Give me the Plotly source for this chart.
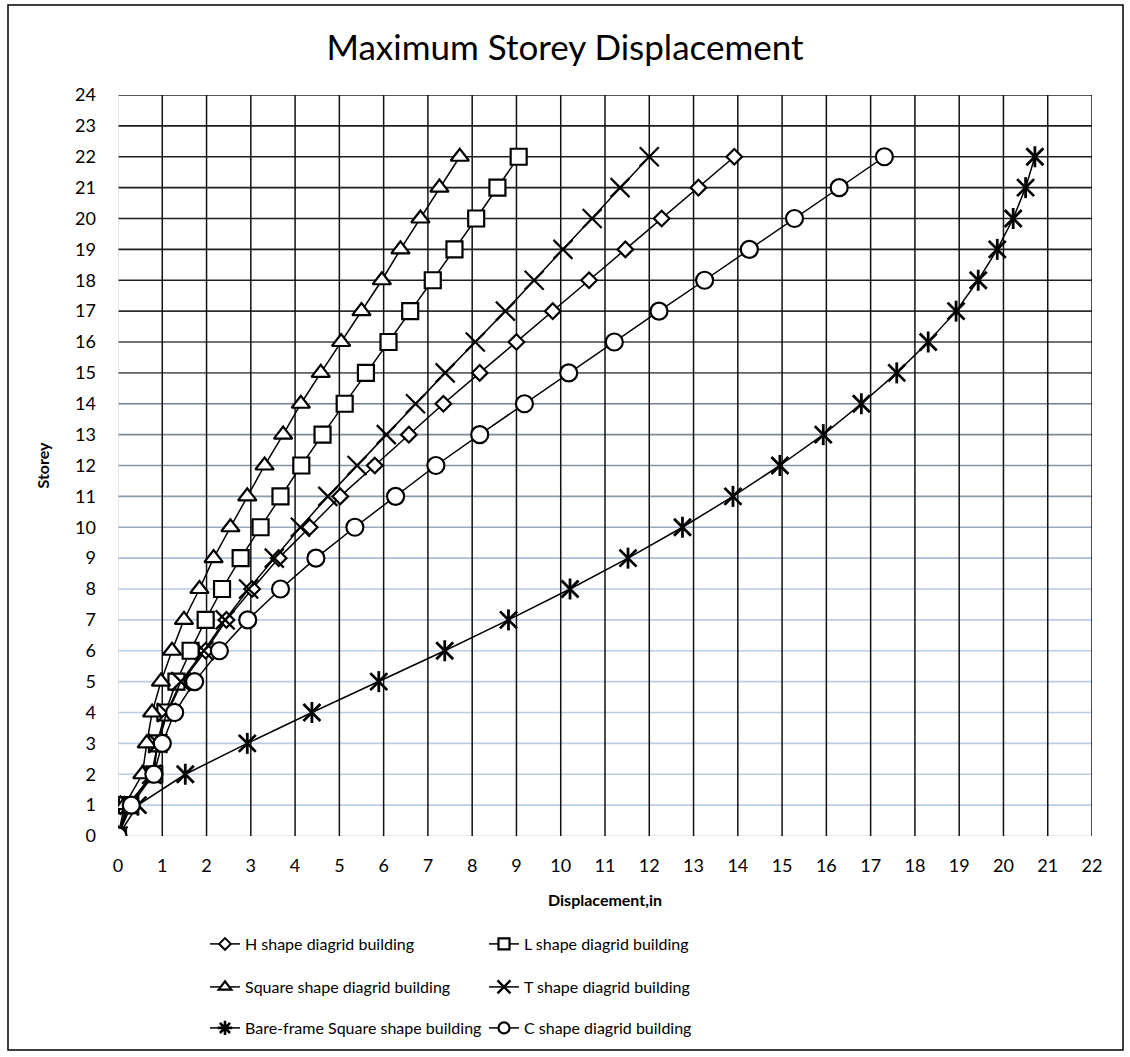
import plotly.graph_objects as go

# ---------------- data ----------------
storeys = list(range(23))
h_shape = [0, 0.25, 0.78, 0.90, 1.12, 1.45, 1.98, 2.45, 3.03, 3.63, 4.33, 5.02, 5.80, 6.57,
           7.35, 8.17, 9.00, 9.82, 10.64, 11.46, 12.28, 13.11, 13.92]
l_shape = [0, 0.20, 0.82, 0.88, 1.07, 1.32, 1.64, 1.98, 2.35, 2.77, 3.22, 3.67, 4.14, 4.62,
           5.12, 5.60, 6.11, 6.60, 7.11, 7.60, 8.09, 8.57, 9.05]
sq_shape = [0, 0.15, 0.55, 0.65, 0.77, 0.97, 1.22, 1.49, 1.84, 2.16, 2.54, 2.92, 3.31, 3.73,
            4.13, 4.58, 5.04, 5.50, 5.96, 6.38, 6.83, 7.26, 7.72]
t_shape = [0, 0.25, 0.76, 0.90, 1.10, 1.42, 1.94, 2.42, 2.95, 3.53, 4.12, 4.74, 5.40, 6.06,
           6.72, 7.39, 8.07, 8.75, 9.40, 10.05, 10.71, 11.34, 12.00]
bare_sq = [0, 0.45, 1.52, 2.92, 4.38, 5.89, 7.38, 8.82, 10.21, 11.52, 12.75, 13.89, 14.95, 15.93,
           16.79, 17.59, 18.30, 18.93, 19.43, 19.86, 20.22, 20.50, 20.71]
c_shape = [0, 0.30, 0.81, 1.00, 1.28, 1.73, 2.29, 2.93, 3.67, 4.47, 5.35, 6.27, 7.18, 8.17,
           9.18, 10.18, 11.21, 12.22, 13.25, 14.26, 15.28, 16.29, 17.31]

names = ["H shape diagrid building", "L shape diagrid building",
         "Square shape diagrid building", "T shape diagrid building",
         "Bare-frame Square shape building", "C shape diagrid building"]

x_ticks = list(range(0, 23))
y_ticks = list(range(0, 25))

# colours of the horizontal grid lines (storey 0 .. 24), as seen in the picture
hgrid_colors = ["#d9d9d9", "#b9cde5", "#b9cde5", "#b9cde5", "#b9cde5", "#b9cde5", "#b9cde5",
                "#b9cde5", "#b6cae2", "#a9bed7", "#99abc1", "#8b9aae", "#8593a5", "#7d8a9a",
                "#737e8a", "#5a6167", "#404448", "#2e2e2e", "#1e1e1e", "#1e1e1e", "#1e1e1e",
                "#1e1e1e", "#1e1e1e", "#1e1e1e", "#1e1e1e"]

# ---------------- geometry ----------------
W, H = 1130, 1057
ML, MR, MT, MB = 118, 38, 95, 221
PW, PH = W - ML - MR, H - MT - MB


def px_x(px):
    return (px - ML) / PW


def px_y(py):
    return (H - MB - py) / PH


FONT = "Lato"
fig = go.Figure()

# horizontal grid lines
for yv, col in zip(y_ticks, hgrid_colors):
    fig.add_shape(type="line", xref="paper", yref="y", x0=0, x1=1, y0=yv, y1=yv,
                  line=dict(color=col, width=1.6 if yv > 0 else 1.2), layer="below")
# vertical grid lines (x = 0 is the light axis line)
for xv in x_ticks:
    fig.add_shape(type="line", xref="x", yref="paper", x0=xv, x1=xv, y0=0, y1=1,
                  line=dict(color="#111111" if xv > 0 else "#d9d9d9",
                            width=1.5 if xv > 0 else 1.2), layer="below")

marker_line = dict(color="black", width=2.2)
line_style = dict(color="black", width=1.5)

# (values, plot marker, legend marker, legend id)
specs = [
    (h_shape, dict(symbol="diamond", size=12, color="white", line=marker_line),
     dict(symbol="diamond", size=9, color="white", line=dict(color="black", width=2)), "legend"),
    (l_shape, dict(symbol="square", size=16, color="white", line=marker_line),
     dict(symbol="square", size=11, color="white", line=dict(color="black", width=2.2)), "legend2"),
    (sq_shape, dict(symbol="triangle-up", size=16, color="white", line=marker_line),
     dict(symbol="triangle-up", size=11, color="white", line=dict(color="black", width=2.2)), "legend3"),
    (t_shape, dict(symbol="x-thin", size=19, color="black", line=dict(color="black", width=2.2)),
     dict(symbol="x-thin", size=13, color="black", line=dict(color="black", width=2.4)), "legend4"),
]

for i, (vals, mk, lmk, lg) in enumerate(specs):
    fig.add_trace(go.Scatter(x=vals, y=storeys, mode="lines+markers", name=names[i],
                             line=line_style, marker=mk, showlegend=False))
    fig.add_trace(go.Scatter(x=[None], y=[None], mode="lines+markers", name=names[i],
                             line=line_style, marker=lmk, legend=lg))

# bare frame: X marker plus a vertical bar -> six-armed star
fig.add_trace(go.Scatter(x=bare_sq, y=storeys, mode="lines+markers", name=names[4],
                         line=line_style, showlegend=False,
                         marker=dict(symbol="x-thin", size=17, color="black",
                                     line=dict(color="black", width=2.8))))
fig.add_trace(go.Scatter(x=bare_sq, y=storeys, mode="markers", showlegend=False,
                         marker=dict(symbol="line-ns", size=15, color="black",
                                     line=dict(color="black", width=2.8)),
                         hoverinfo="skip"))
fig.add_trace(go.Scatter(x=[None], y=[None], mode="lines+markers", name=names[4],
                         line=line_style, legend="legend5",
                         marker=dict(symbol="asterisk", size=12, color="black",
                                     line=dict(color="black", width=2.6))))

fig.add_trace(go.Scatter(x=c_shape, y=storeys, mode="lines+markers", name=names[5],
                         line=line_style, showlegend=False,
                         marker=dict(symbol="circle", size=17, color="white", line=marker_line)))
fig.add_trace(go.Scatter(x=[None], y=[None], mode="lines+markers", name=names[5],
                         line=line_style, legend="legend6",
                         marker=dict(symbol="circle", size=11, color="white",
                                     line=dict(color="black", width=2.2))))

# outer chart border
fig.add_shape(type="rect", xref="paper", yref="paper",
              x0=px_x(8), x1=px_x(1123), y0=px_y(1050), y1=px_y(5),
              line=dict(color="black", width=1.5), fillcolor="rgba(0,0,0,0)")

leg_font = dict(family=FONT, size=16, color="black")
col_x = [px_x(205), px_x(484)]
row_y = [px_y(944), px_y(987), px_y(1028)]
leg_pos = [(0, 0), (1, 0), (0, 1), (1, 1), (0, 2), (1, 2)]
leg_keys = ["legend", "legend2", "legend3", "legend4", "legend5", "legend6"]
legends = {}
for k, (c, r) in zip(leg_keys, leg_pos):
    legends[k] = dict(x=col_x[c], y=row_y[r], xanchor="left", yanchor="middle",
                      font=leg_font, bgcolor="rgba(0,0,0,0)", borderwidth=0,
                      orientation="h")

fig.update_layout(
    width=W, height=H,
    margin=dict(l=ML, r=MR, t=MT, b=MB),
    paper_bgcolor="white", plot_bgcolor="white",
    font=dict(family=FONT, size=18, color="black"),
    title=dict(text="Maximum Storey Displacement", x=0.5, xref="container", xanchor="center",
               y=1 - 48 / H, yanchor="middle",
               font=dict(family=FONT, size=35, color="black")),
    xaxis=dict(range=[0, 22], tickvals=x_ticks, ticktext=[str(v) for v in x_ticks],
               showgrid=False, showline=False, zeroline=False, ticks="",
               ticklabelstandoff=17,
               tickfont=dict(family=FONT, size=18, color="black")),
    yaxis=dict(range=[0, 24], tickvals=y_ticks, ticktext=[str(v) for v in y_ticks],
               showgrid=False, showline=False, zeroline=False, ticks="",
               ticklabelstandoff=21,
               tickfont=dict(family=FONT, size=18, color="black")),
    showlegend=True,
    hovermode=False,
    annotations=[
        dict(text="<b>Displacement,in</b>", xref="paper", yref="paper", x=0.5, y=px_y(899),
             xanchor="center", yanchor="middle", showarrow=False,
             font=dict(family=FONT, size=16, color="black")),
        dict(text="<b>Storey</b>", xref="paper", yref="paper", x=px_x(42), y=0.5,
             xanchor="center", yanchor="middle", showarrow=False, textangle=-90,
             font=dict(family=FONT, size=16, color="black")),
    ],
    **legends,
)

fig.write_html(
    "out.html",
    config={"displayModeBar": False},
    post_script="document.documentElement.style.margin='0';"
                "document.body.style.margin='0';"
                "document.body.style.overflow='hidden';",
)
